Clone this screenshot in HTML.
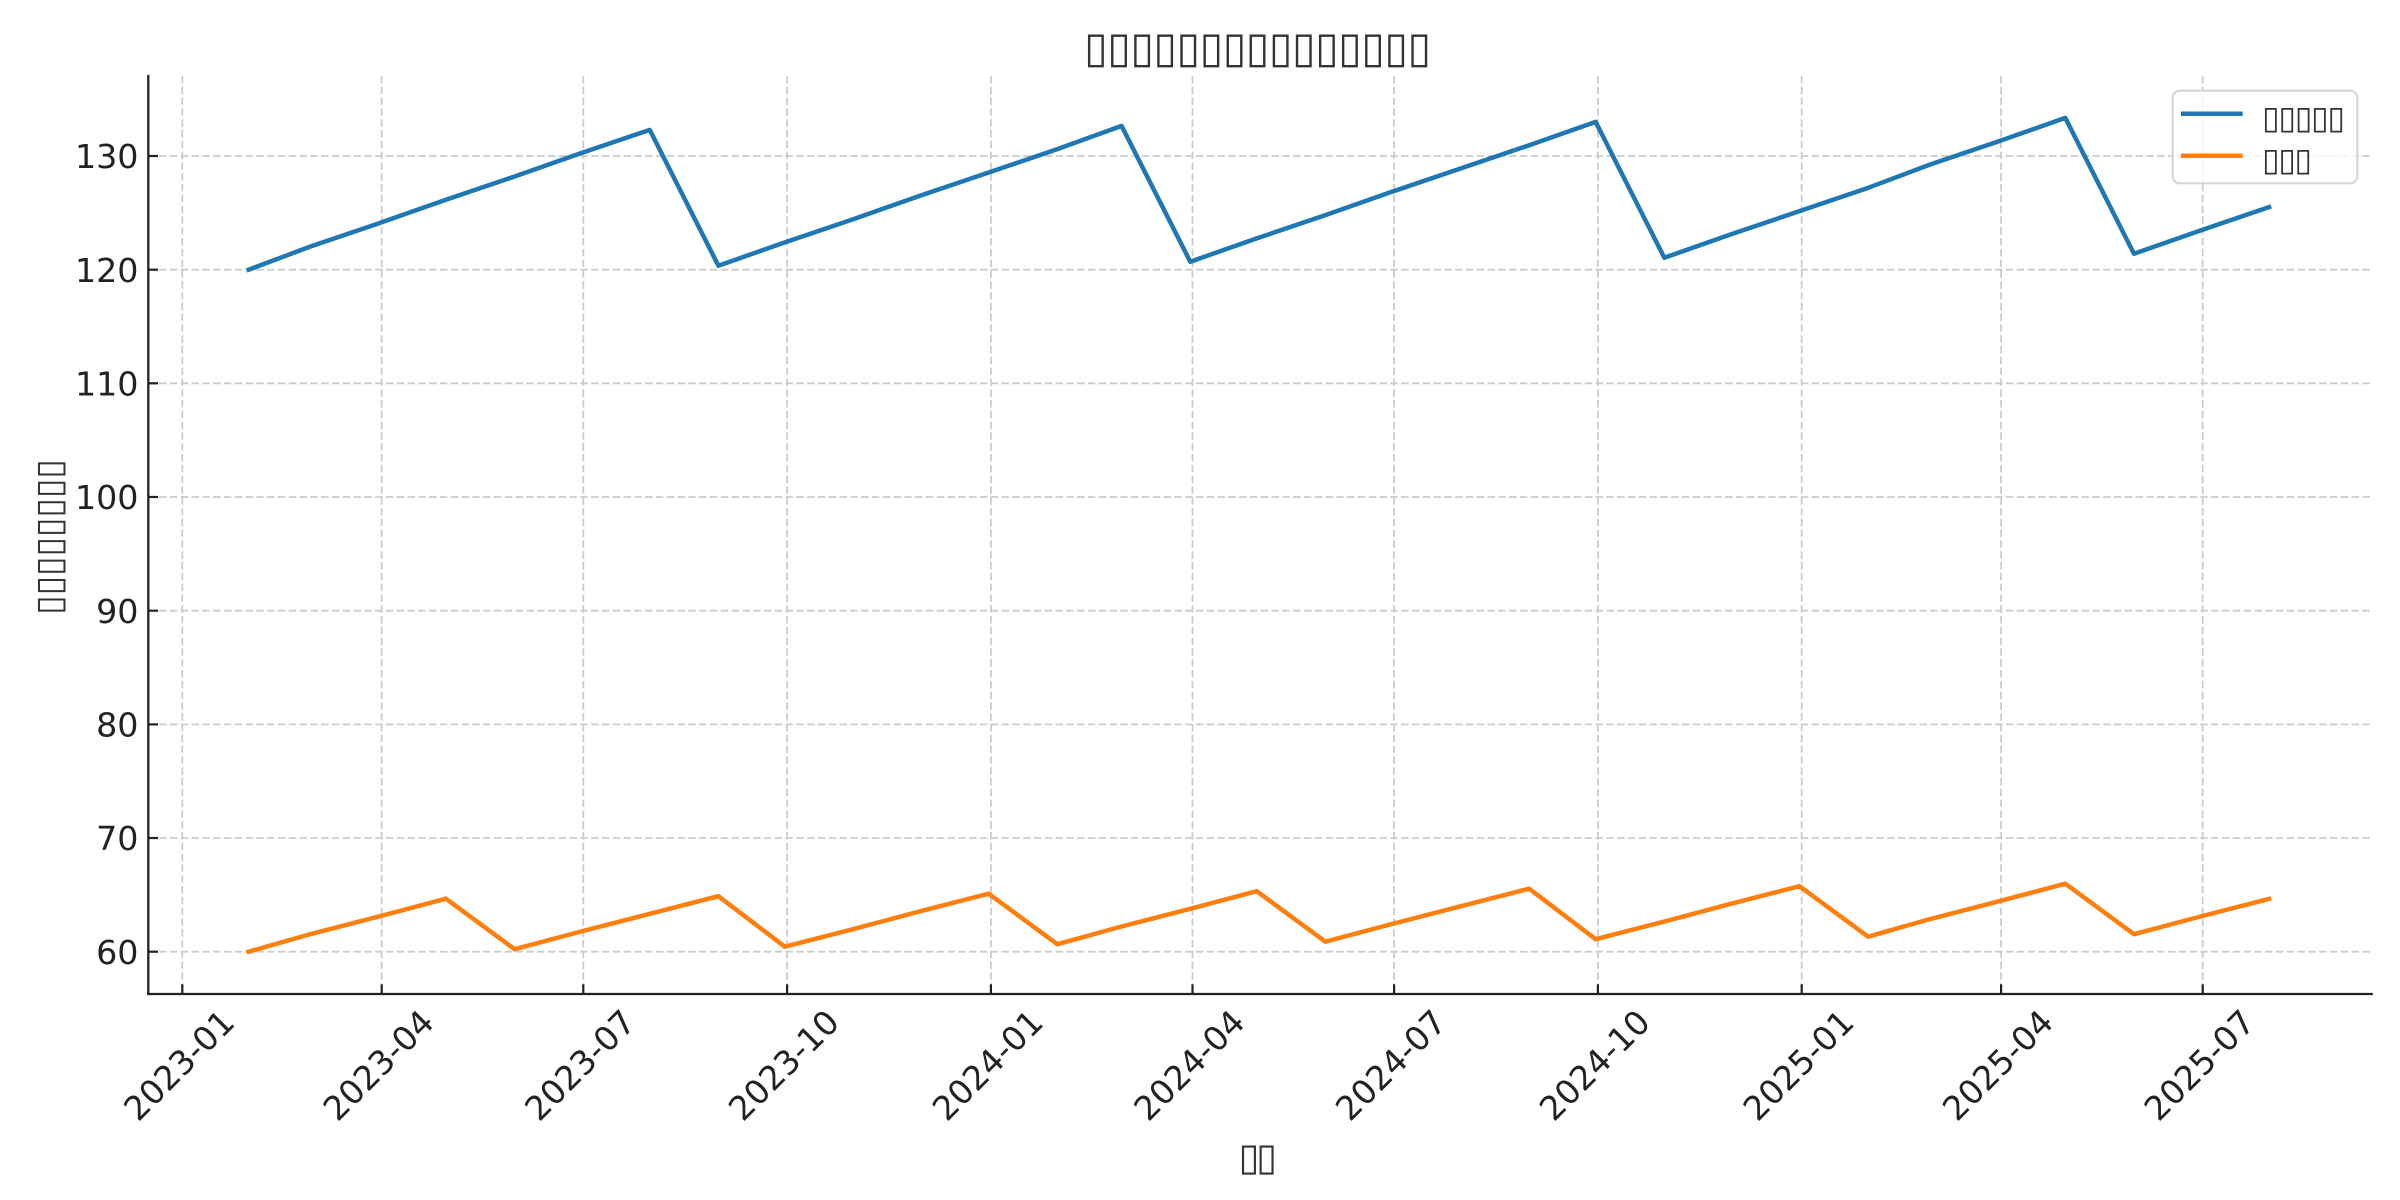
<!DOCTYPE html>
<html><head><meta charset="utf-8"><style>
html,body{margin:0;padding:0;background:#fff;}
svg{display:block;}
.tk{font-family:"DejaVu Sans","Liberation Sans",sans-serif;font-size:33.3px;fill:#222;}
.tofu{font-family:"DejaVu Sans",sans-serif;fill:#333;}
</style></head><body>
<svg width="2400" height="1200" viewBox="0 0 2400 1200" xmlns="http://www.w3.org/2000/svg">
<rect x="0" y="0" width="2400" height="1200" fill="#fff"/>

<!-- grid -->
<g stroke="#cccccc" stroke-width="1.8" stroke-dasharray="7.5 3.3" fill="none">
<line x1="182.3" y1="76" x2="182.3" y2="994"/>
<line x1="381.7" y1="76" x2="381.7" y2="994"/>
<line x1="583.3" y1="76" x2="583.3" y2="994"/>
<line x1="787.1" y1="76" x2="787.1" y2="994"/>
<line x1="990.9" y1="76" x2="990.9" y2="994"/>
<line x1="1192.5" y1="76" x2="1192.5" y2="994"/>
<line x1="1394.1" y1="76" x2="1394.1" y2="994"/>
<line x1="1597.9" y1="76" x2="1597.9" y2="994"/>
<line x1="1801.7" y1="76" x2="1801.7" y2="994"/>
<line x1="2001.1" y1="76" x2="2001.1" y2="994"/>
<line x1="2202.7" y1="76" x2="2202.7" y2="994"/>
<line x1="148.3" y1="156" x2="2371.7" y2="156"/>
<line x1="148.3" y1="269.7" x2="2371.7" y2="269.7"/>
<line x1="148.3" y1="383.3" x2="2371.7" y2="383.3"/>
<line x1="148.3" y1="497" x2="2371.7" y2="497"/>
<line x1="148.3" y1="610.7" x2="2371.7" y2="610.7"/>
<line x1="148.3" y1="724.4" x2="2371.7" y2="724.4"/>
<line x1="148.3" y1="838" x2="2371.7" y2="838"/>
<line x1="148.3" y1="951.7" x2="2371.7" y2="951.7"/>
</g>

<!-- series -->
<polyline fill="none" stroke="#1f77b4" stroke-width="4.5" stroke-linejoin="round" stroke-linecap="square" points="
248.76,269.67 310.79,246.37 379.46,223.07 445.92,199.76 514.60,176.46 581.05,153.16 649.73,129.86
718.40,265.69 784.86,242.39 853.54,219.09 919.99,195.78 988.67,172.48 1057.34,149.18 1121.59,125.88
1190.26,261.71 1256.72,238.41 1325.39,215.11 1391.85,191.81 1460.53,168.50 1529.20,145.20 1595.66,121.90
1664.34,257.73 1730.79,234.43 1799.47,211.13 1868.14,187.83 1930.17,164.53 1998.85,141.22 2065.31,117.92
2133.98,253.76 2200.44,230.45 2269.11,207.15"/>
<polyline fill="none" stroke="#ff7f0e" stroke-width="4.5" stroke-linejoin="round" stroke-linecap="square" points="
248.76,951.69 310.79,934.01 379.46,916.34 445.92,898.66 514.60,949.19 581.05,931.51 649.73,913.84
718.40,896.16 784.86,946.69 853.54,929.01 919.99,911.34 988.67,893.66 1057.34,944.19 1121.59,926.51
1190.26,908.84 1256.72,891.16 1325.39,941.69 1391.85,924.01 1460.53,906.34 1529.20,888.66 1595.66,939.19
1664.34,921.51 1730.79,903.84 1799.47,886.16 1868.14,936.69 1930.17,919.01 1998.85,901.34 2065.31,883.66
2133.98,934.19 2200.44,916.51 2269.11,898.84"/>

<!-- spines -->
<g stroke="#222" stroke-width="2.3" fill="none" stroke-linecap="square">
<line x1="148.3" y1="76" x2="148.3" y2="994"/>
<line x1="148.3" y1="994" x2="2371.7" y2="994"/>
</g>
<!-- ticks (inward) -->
<g stroke="#222" stroke-width="2.2">
<line x1="148.3" y1="156" x2="158" y2="156"/>
<line x1="148.3" y1="269.7" x2="158" y2="269.7"/>
<line x1="148.3" y1="383.3" x2="158" y2="383.3"/>
<line x1="148.3" y1="497" x2="158" y2="497"/>
<line x1="148.3" y1="610.7" x2="158" y2="610.7"/>
<line x1="148.3" y1="724.4" x2="158" y2="724.4"/>
<line x1="148.3" y1="838" x2="158" y2="838"/>
<line x1="148.3" y1="951.7" x2="158" y2="951.7"/>
<line x1="182.3" y1="994" x2="182.3" y2="984.3"/>
<line x1="381.7" y1="994" x2="381.7" y2="984.3"/>
<line x1="583.3" y1="994" x2="583.3" y2="984.3"/>
<line x1="787.1" y1="994" x2="787.1" y2="984.3"/>
<line x1="990.9" y1="994" x2="990.9" y2="984.3"/>
<line x1="1192.5" y1="994" x2="1192.5" y2="984.3"/>
<line x1="1394.1" y1="994" x2="1394.1" y2="984.3"/>
<line x1="1597.9" y1="994" x2="1597.9" y2="984.3"/>
<line x1="1801.7" y1="994" x2="1801.7" y2="984.3"/>
<line x1="2001.1" y1="994" x2="2001.1" y2="984.3"/>
<line x1="2202.7" y1="994" x2="2202.7" y2="984.3"/>
</g>

<!-- y tick labels -->
<g class="tk" text-anchor="end">
<text x="138.5" y="168.1">130</text>
<text x="138.5" y="281.8">120</text>
<text x="138.5" y="395.4">110</text>
<text x="138.5" y="509.1">100</text>
<text x="138.5" y="622.8">90</text>
<text x="138.5" y="736.5">80</text>
<text x="138.5" y="850.1">70</text>
<text x="138.5" y="963.8">60</text>
</g>

<!-- x tick labels -->
<g class="tk" text-anchor="middle">
<text transform="translate(178.8,1065) rotate(-45)" x="0" y="12">2023-01</text>
<text transform="translate(378.2,1065) rotate(-45)" x="0" y="12">2023-04</text>
<text transform="translate(579.8,1065) rotate(-45)" x="0" y="12">2023-07</text>
<text transform="translate(783.6,1065) rotate(-45)" x="0" y="12">2023-10</text>
<text transform="translate(987.4,1065) rotate(-45)" x="0" y="12">2024-01</text>
<text transform="translate(1189,1065) rotate(-45)" x="0" y="12">2024-04</text>
<text transform="translate(1390.6,1065) rotate(-45)" x="0" y="12">2024-07</text>
<text transform="translate(1594.4,1065) rotate(-45)" x="0" y="12">2024-10</text>
<text transform="translate(1798.2,1065) rotate(-45)" x="0" y="12">2025-01</text>
<text transform="translate(1997.6,1065) rotate(-45)" x="0" y="12">2025-04</text>
<text transform="translate(2199.2,1065) rotate(-45)" x="0" y="12">2025-07</text>
</g>

<!-- title (missing-glyph boxes) -->
<text class="tofu" x="1084" y="62" font-size="43" textLength="347" lengthAdjust="spacing">▯▯▯▯▯▯▯▯▯▯▯▯▯▯▯</text>

<!-- x label -->
<text class="tofu" x="1238.5" y="1170" font-size="38" textLength="38.5" lengthAdjust="spacing">▯▯</text>

<!-- y label -->
<text class="tofu" transform="translate(61,615) rotate(-90)" x="0" y="0" font-size="36" textLength="156" lengthAdjust="spacing">▯▯▯▯▯▯▯▯</text>

<!-- legend -->
<rect x="2172.7" y="90.7" width="184.6" height="92.6" rx="7" ry="7" fill="#fff" fill-opacity="0.8" stroke="#d6d6d6" stroke-width="2.2"/>
<line x1="2181" y1="113.7" x2="2242.7" y2="113.7" stroke="#1f77b4" stroke-width="4.5"/>
<line x1="2181" y1="155.7" x2="2242.7" y2="155.7" stroke="#ff7f0e" stroke-width="4.5"/>
<text class="tofu" x="2262" y="128.3" font-size="32" textLength="83" lengthAdjust="spacing">▯▯▯▯▯</text>
<text class="tofu" x="2262" y="170.5" font-size="32" textLength="50" lengthAdjust="spacing">▯▯▯</text>
</svg>
</body></html>
